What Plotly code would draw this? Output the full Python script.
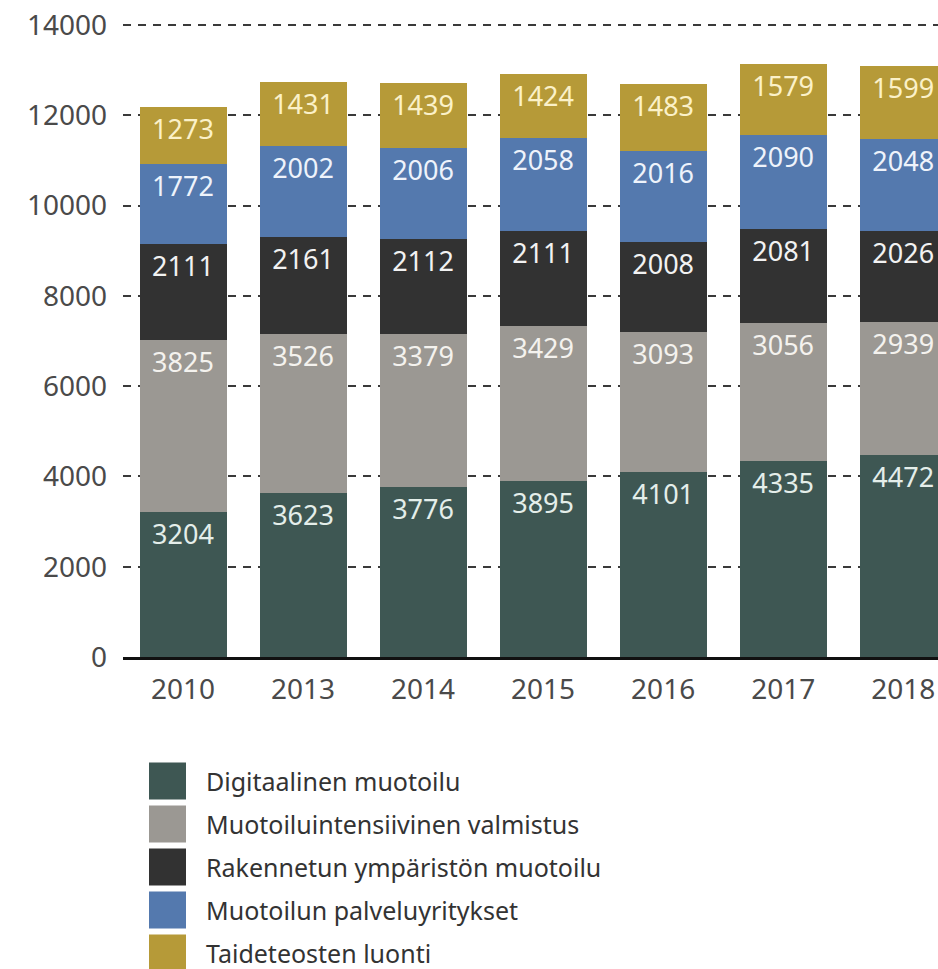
import plotly.graph_objects as go

years = ["2010", "2013", "2014", "2015", "2016", "2017", "2018"]
series_names = [
    "Digitaalinen muotoilu",
    "Muotoiluintensiivinen valmistus",
    "Rakennetun ympäristön muotoilu",
    "Muotoilun palveluyritykset",
    "Taideteosten luonti",
]
digitaalinen = [3204, 3623, 3776, 3895, 4101, 4335, 4472]
valmistus = [3825, 3526, 3379, 3429, 3093, 3056, 2939]
rakennettu = [2111, 2161, 2112, 2111, 2008, 2081, 2026]
palvelu = [1772, 2002, 2006, 2058, 2016, 2090, 2048]
taide = [1273, 1431, 1439, 1424, 1483, 1579, 1599]
series_values = [digitaalinen, valmistus, rakennettu, palvelu, taide]
y_ticks = [0, 2000, 4000, 6000, 8000, 10000, 12000, 14000]
y_tick_labels = ["0", "2000", "4000", "6000", "8000", "10000", "12000", "14000"]

colors = ["#3e5753", "#9b9893", "#323232", "#5479ae", "#b69a38"]
text_colors = ["#e4eeea", "#f4f2ee", "#f2f2f2", "#eef3fb", "#fbf1c8"]

FONT = "Noto Sans"
W, H = 938, 969
L, R, T, B = 123, 0, 21, 312
# pixel rows: value 0 at y=657, value 14000 at y=25
px_per_unit = (657 - 25) / 14000
y_top = (H - B - T) / px_per_unit

fig = go.Figure()
for name, vals, c, tc in zip(series_names, series_values, colors, text_colors):
    fig.add_trace(go.Bar(
        x=years, y=vals, name=name,
        marker=dict(color=c, line=dict(width=0)),
        text=[str(v) for v in vals],
        textposition="inside", insidetextanchor="end",
        textfont=dict(family=FONT, size=27, color=tc),
        textangle=0,
        showlegend=False,
    ))

fig.update_layout(
    barmode="stack",
    bargap=0.275,
    width=W, height=H,
    margin=dict(l=L, r=R, t=T, b=B),
    plot_bgcolor="white", paper_bgcolor="white",
    font=dict(family=FONT, color="#4a4a4a"),
    uniformtext=dict(minsize=27, mode="show"),
    xaxis=dict(
        type="category", range=[-0.5, 6.29],
        showline=True, linecolor="#111111", linewidth=2.5,
        showgrid=False, ticks="", ticklabelstandoff=6,
        tickfont=dict(family=FONT, size=28, color="#4a4a4a"),
    ),
    yaxis=dict(
        range=[0, y_top], tickvals=y_ticks, ticktext=y_tick_labels,
        showgrid=True, gridcolor="#3a3a3a", gridwidth=2, griddash="8px,7px",
        zeroline=False, showline=False, ticks="", ticklabelstandoff=15,
        tickfont=dict(family=FONT, size=28, color="#4a4a4a"),
    ),
)

# Manual legend (large square swatches), built from series names and colours
plot_w = W - L - R
plot_h = H - T - B
def px_x(x):
    return (x - L) / plot_w
def px_y(y):
    return (H - B - y) / plot_h

row0 = 781
step = 43
sq = 37
for i, (name, c) in enumerate(zip(series_names, colors)):
    cy = row0 + i * step
    fig.add_shape(type="rect", xref="paper", yref="paper",
                  x0=px_x(149), x1=px_x(149 + sq),
                  y0=px_y(cy - sq / 2), y1=px_y(cy + sq / 2),
                  fillcolor=c, line=dict(width=0))
    fig.add_annotation(xref="paper", yref="paper", x=px_x(204), y=px_y(cy),
                       text=name, showarrow=False, xanchor="left", yanchor="middle",
                       font=dict(family=FONT, size=25, color="#333333"))

fig.write_html(
    "out.html",
    config={"displayModeBar": False},
    post_script="document.body.style.margin='0';document.body.style.overflow='hidden';",
)
